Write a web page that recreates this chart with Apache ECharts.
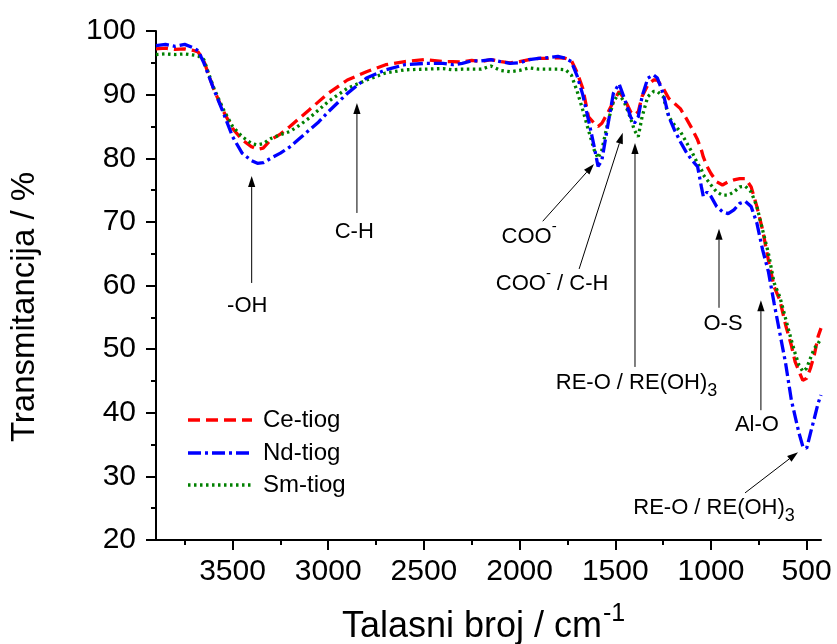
<!DOCTYPE html>
<html>
<head>
<meta charset="utf-8">
<title>FTIR spektri</title>
<script src="https://cdn.jsdelivr.net/npm/echarts@6/dist/echarts.min.js"></script>
<style>
  html, body { margin: 0; padding: 0; background: #fff; }
  #chart { width: 837px; height: 644px; }
</style>
</head>
<body>
<div id="chart"></div>
<script>
// Wavenumbers (cm-1) shared by all three spectra
const wavenumbers = [3900, 3850, 3800, 3750, 3700, 3680, 3650, 3600, 3550, 3500,
  3450, 3400, 3370, 3340, 3300, 3250, 3200, 3150, 3100, 3050,
  3000, 2900, 2800, 2700, 2600, 2500, 2400, 2350, 2300, 2250,
  2200, 2150, 2100, 2050, 2000, 1950, 1900, 1850, 1800, 1760,
  1730, 1700, 1670, 1640, 1610, 1590, 1570, 1540, 1510, 1480,
  1450, 1420, 1400, 1380, 1360, 1330, 1300, 1280, 1250, 1220,
  1190, 1160, 1130, 1100, 1070, 1050, 1040, 1020, 1000, 970,
  940, 910, 880, 850, 820, 790, 760, 730, 700, 670,
  640, 610, 580, 560, 540, 520, 500, 480, 460, 440, 425];

// Transmittance (%) — Ce-tiog
const ceTiog = [97.2, 97.3, 97.1, 97.2, 96.9, 96.7, 95.3, 91.0, 87.5, 84.7,
  82.9, 81.8, 81.4, 81.6, 82.9, 83.8, 85.0, 86.3, 87.6, 88.9,
  90.2, 92.3, 93.6, 94.7, 95.2, 95.5, 95.2, 95.2, 95.1, 95.4,
  95.2, 95.5, 95.2, 95.0, 95.2, 95.5, 95.7, 95.7, 95.8, 95.7,
  95.4, 93.5, 91.0, 86.5, 85.5, 85.0, 85.5, 87.1, 88.9, 90.5,
  89.2, 87.3, 86.8, 87.3, 89.7, 91.5, 92.3, 92.3, 91.0, 89.4,
  88.6, 87.8, 86.3, 84.7, 82.9, 81.3, 80.2, 78.7, 77.6, 76.3,
  75.8, 76.3, 76.6, 76.8, 76.8, 75.5, 72.4, 68.7, 64.0, 59.8,
  57.7, 53.8, 50.6, 48.0, 46.5, 45.1, 45.4, 47.0, 49.1, 52.0, 53.3];

// Transmittance (%) — Nd-tiog
const ndTiog = [97.7, 97.9, 97.6, 97.9, 97.3, 96.9, 95.0, 91.0, 87.3, 83.4,
  80.8, 79.6, 79.2, 79.3, 80.0, 80.8, 81.8, 83.1, 84.4, 85.7,
  87.3, 90.2, 92.6, 93.9, 94.7, 94.9, 94.9, 94.7, 94.9, 95.3,
  95.3, 95.5, 95.2, 94.9, 95.0, 95.5, 95.7, 95.8, 96.0, 95.7,
  95.2, 93.0, 90.0, 86.0, 81.8, 78.7, 79.7, 85.0, 90.2, 91.7,
  89.2, 86.5, 85.5, 86.5, 89.7, 92.6, 93.1, 92.6, 90.2, 86.5,
  84.4, 82.6, 81.0, 79.7, 78.7, 75.5, 74.0, 74.7, 74.0, 72.4,
  71.6, 71.3, 71.9, 72.9, 73.2, 72.4, 69.8, 65.6, 62.2, 57.2,
  52.5, 47.8, 42.0, 39.4, 36.8, 34.7, 34.4, 36.8, 39.1, 41.5, 42.8];

// Transmittance (%) — Sm-tiog
const smTiog = [96.3, 96.4, 96.3, 96.4, 96.2, 96.1, 95.5, 91.2, 87.8, 85.0,
  83.4, 82.3, 82.1, 82.3, 83.1, 83.7, 84.2, 85.2, 86.3, 87.6,
  88.9, 91.0, 92.3, 93.4, 93.9, 94.0, 94.1, 93.9, 94.0, 94.0,
  94.0, 94.5, 93.8, 93.6, 93.8, 94.2, 94.0, 94.0, 94.0, 93.9,
  93.1, 90.6, 87.6, 84.4, 81.3, 80.0, 81.3, 85.5, 88.9, 90.2,
  88.6, 86.3, 84.4, 83.4, 86.5, 89.7, 90.5, 90.5, 89.7, 86.5,
  85.2, 84.2, 82.6, 81.0, 79.2, 78.2, 77.4, 76.6, 75.8, 74.7,
  74.2, 74.2, 74.7, 75.5, 75.6, 74.7, 72.4, 68.7, 65.1, 60.4,
  58.2, 54.8, 51.4, 49.3, 47.5, 46.5, 47.0, 48.6, 50.1, 50.9, 51.7];

const seriesNames = ['Ce-tiog', 'Nd-tiog', 'Sm-tiog'];

// Axis ticks
const xMajorTicks = [3500, 3000, 2500, 2000, 1500, 1000, 500];
const xMinorTicks = [3750, 3250, 2750, 2250, 1750, 1250, 750];

const FONT = '"Liberation Sans", Arial, Helvetica, sans-serif';
const COLORS = ['#ff0000', '#0000ff', '#008000'];
const DASHES = [[12, 6], [13, 4, 3, 4], [2.5, 3.5]];

const pairs = vals => wavenumbers.map((w, i) => [w, vals[i]]);

const chart = echarts.init(document.getElementById('chart'), null, { renderer: 'canvas' });

const axisLineStyle = { color: '#000', width: 2 };

const option = {
  animation: false,
  backgroundColor: '#fff',
  grid: { left: 156, right: 16, top: 31, bottom: 104 },
  xAxis: [
    {
      type: 'value', min: 425, max: 3900, inverse: true,
      axisLine: { show: true, lineStyle: axisLineStyle },
      axisTick: { show: true, customValues: xMajorTicks, length: 10, lineStyle: axisLineStyle },
      axisLabel: {
        show: true, customValues: xMajorTicks, fontSize: 30, color: '#000',
        fontFamily: FONT, margin: 17, formatter: v => String(v)
      },
      splitLine: { show: false }
    },
    {
      type: 'value', min: 425, max: 3900, inverse: true, position: 'bottom',
      axisLine: { show: false },
      axisTick: { show: true, customValues: xMinorTicks, length: 5, lineStyle: axisLineStyle },
      axisLabel: { show: false },
      splitLine: { show: false }
    }
  ],
  yAxis: {
    type: 'value', min: 20, max: 100, interval: 10,
    axisLine: { show: true, lineStyle: axisLineStyle },
    axisTick: { show: true, length: 10, lineStyle: axisLineStyle },
    minorTick: { show: true, splitNumber: 2, length: 5, lineStyle: axisLineStyle },
    axisLabel: { fontSize: 30, color: '#000', fontFamily: FONT, margin: 20, formatter: v => String(v) },
    splitLine: { show: false },
    minorSplitLine: { show: false }
  },
  series: [ceTiog, ndTiog, smTiog].map((vals, i) => ({
    name: seriesNames[i],
    type: 'line',
    xAxisIndex: 0,
    yAxisIndex: 0,
    data: pairs(vals),
    showSymbol: false,
    symbol: 'none',
    smooth: false,
    lineStyle: { color: COLORS[i], width: 3.3, type: DASHES[i] },
    z: i === 1 ? 4 : 3
  }))
};

chart.setOption(option);

// ---- annotations, legend and axis titles ----
const measureCtx = document.createElement('canvas').getContext('2d');
function textWidth(str, size) {
  measureCtx.font = size + 'px ' + FONT;
  return measureCtx.measureText(str).width;
}
const px = (v, t) => chart.convertToPixel({ xAxisIndex: 0, yAxisIndex: 0 }, [v, t]);

// A label made of pieces (normal, sub- and superscript), centred on a point
function richLabel(cx, cy, parts) {
  const widths = parts.map(p => textWidth(p.text, p.size));
  const total = widths.reduce((a, b) => a + b, 0);
  let x = cx - total / 2;
  const out = [];
  parts.forEach((p, i) => {
    out.push({
      type: 'text', silent: true, z: 100,
      style: {
        text: p.text, x: x, y: cy + (p.dy || 0),
        font: p.size + 'px ' + FONT, fill: '#000',
        align: 'left', verticalAlign: 'middle'
      }
    });
    x += widths[i];
  });
  return out;
}

function arrow(tail, tip) {
  const dx = tip[0] - tail[0], dy = tip[1] - tail[1];
  const len = Math.hypot(dx, dy);
  const ux = dx / len, uy = dy / len;
  const headLen = 11, headHalf = 3.6;
  const bx = tip[0] - ux * headLen, by = tip[1] - uy * headLen;
  return [
    {
      type: 'line', silent: true, z: 100,
      shape: { x1: tail[0], y1: tail[1], x2: bx, y2: by },
      style: { stroke: '#000', lineWidth: 1 }
    },
    {
      type: 'polygon', silent: true, z: 100,
      shape: { points: [tip, [bx - uy * headHalf, by + ux * headHalf], [bx + uy * headHalf, by - ux * headHalf]] },
      style: { fill: '#000' }
    }
  ];
}

const N = 22, SUB = 18, SUP = 15;
const reParts = [{ text: 'RE-O / RE(OH)', size: N }, { text: '3', size: SUB, dy: 8 }];

// Band assignments: arrow tip, arrow tail and label centre in data coordinates
const bands = [
  { tip: [3400, 77.2], tail: [3400, 60.4], at: [3423, 56.8], parts: [{ text: '-OH', size: N }] },
  { tip: [2850, 88.7], tail: [2850, 71.4], at: [2864, 68.4], parts: [{ text: 'C-H', size: N }] },
  { tip: [1611, 79.1], tail: [1879, 70.1], at: [1950, 67.6], parts: [{ text: 'COO', size: N }, { text: '-', size: SUP, dy: -10 }] },
  { tip: [1461, 84.0], tail: [1689, 62.6], at: [1830, 60.2], parts: [{ text: 'COO', size: N }, { text: '-', size: SUP, dy: -10 }, { text: ' / C-H', size: N }] },
  { tip: [1397, 82.4], tail: [1397, 47.2], at: [1389, 44.7], parts: reParts },
  { tip: [958, 68.9], tail: [958, 56.5], at: [937, 53.9], parts: [{ text: 'O-S', size: N }] },
  { tip: [739, 57.7], tail: [739, 40.4], at: [760, 38.1], parts: [{ text: 'Al-O', size: N }] },
  { tip: [545, 33.8], tail: [822, 27.4], at: [984, 25.0], parts: reParts }
];

const graphics = [];
bands.forEach(b => {
  graphics.push(...arrow(px(b.tail[0], b.tail[1]), px(b.tip[0], b.tip[1])));
  const c = px(b.at[0], b.at[1]);
  graphics.push(...richLabel(c[0], c[1], b.parts));
});

// Legend
const legendY = [420, 453, 485];
seriesNames.forEach((name, i) => {
  graphics.push({
    type: 'line', silent: true, z: 100,
    shape: { x1: 188, y1: legendY[i], x2: 252, y2: legendY[i] },
    style: { stroke: COLORS[i], lineWidth: 3.3, lineDash: DASHES[i] }
  });
  graphics.push({
    type: 'text', silent: true, z: 100,
    style: { text: name, x: 263, y: legendY[i], font: '24px ' + FONT, fill: '#000', align: 'left', verticalAlign: 'middle' }
  });
});

// Axis titles
graphics.push({
  type: 'text', silent: true, z: 100, x: 25, y: 307, rotation: Math.PI / 2,
  style: { text: 'Transmitancija / %', x: 0, y: 0, font: '33px ' + FONT, fill: '#000', align: 'center', verticalAlign: 'middle' }
});
graphics.push({
  type: 'text', silent: true, z: 100,
  style: { text: 'Talasni broj / cm', x: 602, y: 627, font: '36px ' + FONT, fill: '#000', align: 'right', verticalAlign: 'middle' }
});
graphics.push({
  type: 'text', silent: true, z: 100,
  style: { text: '-1', x: 603, y: 614, font: '25px ' + FONT, fill: '#000', align: 'left', verticalAlign: 'middle' }
});

chart.setOption({ graphic: graphics });
</script>
</body>
</html>
